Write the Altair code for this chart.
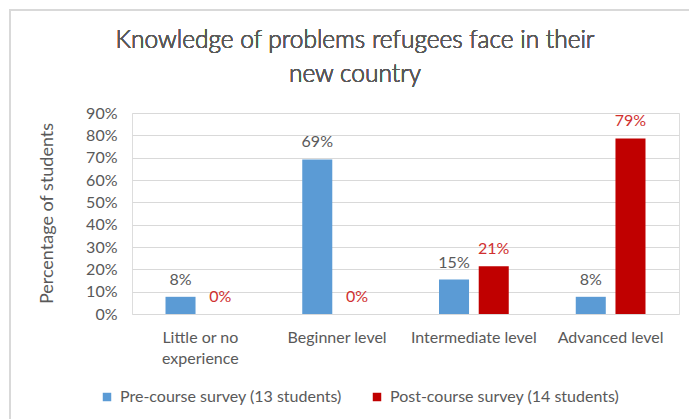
import altair as alt
import pandas as pd

categories = ["Little or no experience", "Beginner level", "Intermediate level", "Advanced level"]
series = ["Pre-course survey (13 students)", "Post-course survey (14 students)"]
pre_values = [0.077, 0.692, 0.154, 0.077]
post_values = [0.0, 0.0, 0.214, 0.786]
y_ticks = [0, 0.1, 0.2, 0.3, 0.4, 0.5, 0.6, 0.7, 0.8, 0.9]
title_lines = ["Knowledge of problems refugees face in their", "new country"]

rows = []
for c, v in zip(categories, pre_values):
    rows.append({"level": c, "survey": series[0], "value": v})
for c, v in zip(categories, post_values):
    rows.append({"level": c, "survey": series[1], "value": v})
df = pd.DataFrame(rows)

FONT = "Lato"
GRAY = "#595959"
BLUE = "#5B9BD5"
RED = "#C00000"

x_enc = alt.X(
    "level:N", sort=categories, title=None,
    scale=alt.Scale(paddingInner=0.49, paddingOuter=0.245),
    axis=alt.Axis(
        labelAngle=0, labelFontSize=16, labelColor=GRAY, labelFont=FONT,
        labelPadding=15, labelLineHeight=21, ticks=False, domain=False, grid=False,
        labelBaseline="top",
        labelExpr="datum.value == 'Little or no experience' ? ['Little or no', 'experience'] : datum.value",
    ),
)
xoff = alt.XOffset("survey:N", sort=series, scale=alt.Scale(paddingInner=0.244))
y_enc = alt.Y(
    "value:Q",
    scale=alt.Scale(domain=[0, 0.9], nice=False),
    axis=alt.Axis(
        values=y_ticks, format=".0%", title="Percentage of students",
        titleFontSize=18, titleFont=FONT, titleColor=GRAY, titleFontWeight="normal",
        titleX=-85, titleY=100, titleAngle=-90, titleAlign="center", titleBaseline="middle",
        labelFontSize=16, labelFont=FONT, labelColor=GRAY, labelPadding=15,
        labelOverlap=False, ticks=False, tickSize=0, domain=False,
        gridColor="#D9D9D9", gridWidth=1,
    ),
)

bars = alt.Chart(df).mark_bar().encode(
    x=x_enc, xOffset=xoff, y=y_enc,
    color=alt.Color(
        "survey:N", sort=series,
        scale=alt.Scale(domain=series, range=[BLUE, RED]),
        legend=alt.Legend(
            title=None, orient="none", legendX=-33, legendY=276, direction="horizontal",
            symbolType="square", symbolSize=72, symbolStrokeWidth=0,
            labelFontSize=16, labelFont=FONT, labelColor=GRAY, labelOffset=5,
            columnPadding=27, labelLimit=300,
        ),
    ),
)

labels = alt.Chart(df).mark_text(baseline="alphabetic", dy=-12, fontSize=16, font=FONT).encode(
    x=x_enc,
    xOffset=xoff,
    y=y_enc,
    text=alt.Text("value:Q", format=".0%"),
    color=alt.condition(alt.datum.survey == series[0], alt.value(GRAY), alt.value("#D0302F")),
)

title = alt.Chart(df).mark_text(
    text=title_lines, font=FONT, fontSize=24.5, fontWeight=300, color=GRAY, lineHeight=34,
    align="center", baseline="alphabetic",
).encode(x=alt.value(223), y=alt.value(-65))

frame_left = alt.Chart(df).mark_rule(color="#D9D9D9", strokeWidth=2).encode(
    x=alt.value(-122), y=alt.value(-103), y2=alt.value(306)
)
frame_top = alt.Chart(df).mark_rule(color="#D9D9D9", strokeWidth=2).encode(
    y=alt.value(-103), x=alt.value(-123), x2=alt.value(557)
)

chart = alt.layer(bars, labels, title, frame_left, frame_top).properties(
    width=547, height=201,
    autosize=alt.AutoSizeParams(type="none"),
    padding={"left": 132, "top": 113, "right": 10, "bottom": 105},
).configure_view(stroke=None).configure(background="white")

chart.save("out.html", embed_options={"renderer": "svg", "actions": False})
